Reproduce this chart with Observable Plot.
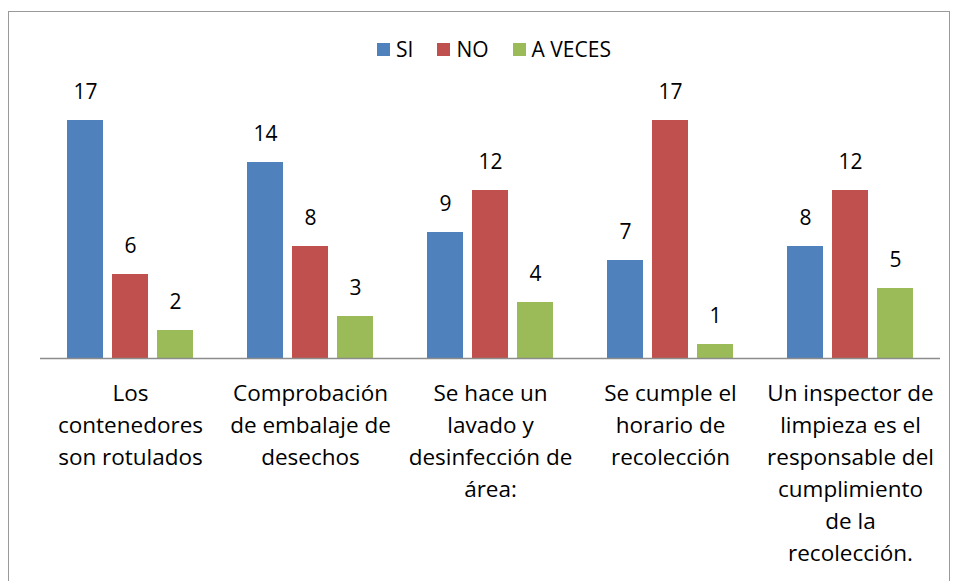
<!DOCTYPE html>
<html>
<head>
<meta charset="utf-8">
<script src="https://cdn.jsdelivr.net/npm/d3@7"></script>
<script src="https://cdn.jsdelivr.net/npm/@observablehq/plot@0.6"></script>
<style>
  html, body { margin: 0; padding: 0; background: #fff; }
  body { width: 958px; height: 581px; position: relative; overflow: hidden; font-family: "Open Sans", Lato, sans-serif; }
  #frame { position: absolute; left: 8px; top: 11px; width: 942px; height: 620px; border: 1.5px solid #9a9a9a; box-sizing: border-box; }
  #legend { position: absolute; top: 35px; left: 0; width: 988px; display: flex; justify-content: center; align-items: center; font-size: 21px; color: #000; }
  #legend .item { display: flex; align-items: center; margin: 0 12px; }
  #legend .sw { width: 13px; height: 13px; margin-right: 6px; }
  #chart { position: absolute; left: 0; top: 0; }
  #chart svg { font-family: "Open Sans", Lato, sans-serif; }
</style>
</head>
<body>
<div id="frame"></div>
<div id="legend"></div>
<div id="chart"></div>
<script>
const categories = [
  "Los\ncontenedores\nson rotulados",
  "Comprobación\nde embalaje de\ndesechos",
  "Se hace un\nlavado y\ndesinfección de\nárea:",
  "Se cumple el\nhorario de\nrecolección",
  "Un inspector de\nlimpieza es el\nresponsable del\ncumplimiento\nde la\nrecolección."
];
const series = ["SI", "NO", "A VECES"];
const colors = ["#4F81BD", "#C0504D", "#9BBB59"];
const siValues = [17, 14, 9, 7, 8];
const noValues = [6, 8, 12, 17, 12];
const aVecesValues = [2, 3, 4, 1, 5];

const valuesBySeries = [siValues, noValues, aVecesValues];
const data = [];
categories.forEach((c, i) => {
  series.forEach((s, j) => {
    data.push({cat: c, series: s, value: valuesBySeries[j][i]});
  });
});

// legend
const legend = document.getElementById("legend");
series.forEach((s, j) => {
  const it = document.createElement("div");
  it.className = "item";
  it.innerHTML = `<span class="sw" style="background:${colors[j]}"></span><span>${s}</span>`;
  legend.appendChild(it);
});

const chart = Plot.plot({
  width: 958,
  height: 581,
  marginLeft: 39,
  marginRight: 17,
  marginTop: 120,
  marginBottom: 223,
  style: {background: "transparent", color: "#000", fontSize: "20px"},
  fx: {domain: categories, padding: 0, label: null, axis: null},
  x: {domain: series, paddingInner: 0.2, paddingOuter: 0.6, axis: null},
  y: {domain: [0, 17], axis: null},
  color: {domain: series, range: colors},
  marks: [
    Plot.barY(data, {fx: "cat", x: "series", y: "value", fill: "series"}),
    Plot.text(data, {fx: "cat", x: "series", y: "value", text: d => String(d.value), dy: -28, fontSize: 21, fill: "#000", lineAnchor: "middle"}),
    Plot.ruleY([0], {stroke: "#8c8c8c", strokeWidth: 1.5}),
    Plot.axisFx({anchor: "bottom", tickSize: 0, tickPadding: 20, fontSize: 22.5, lineHeight: 32 / 22.5, fill: "#000", label: null, tickFormat: d => d, lineWidth: 100})
  ]
});
document.getElementById("chart").appendChild(chart);
</script>
</body>
</html>
